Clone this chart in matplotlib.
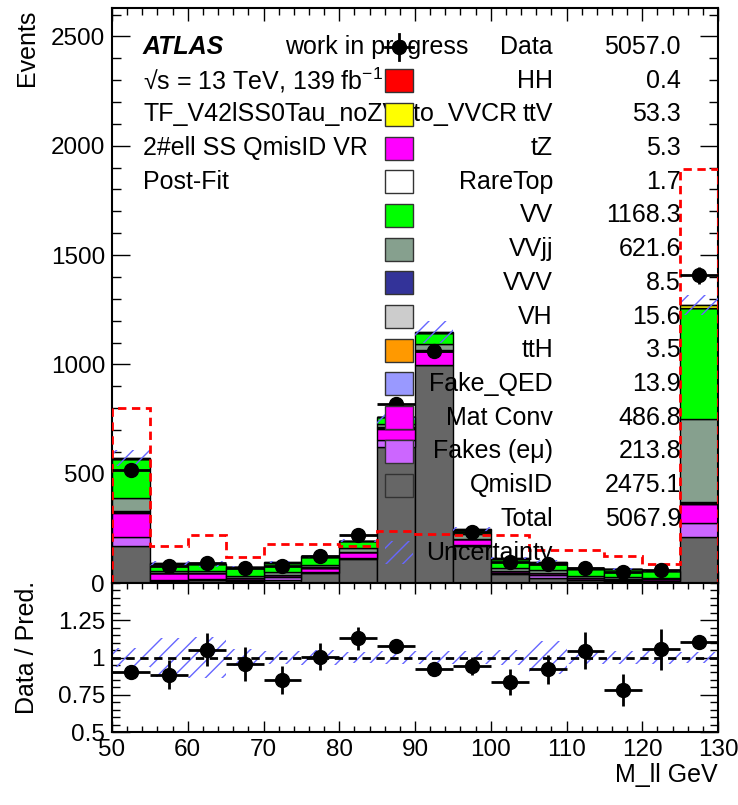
import numpy as np
import matplotlib
matplotlib.use('Agg')
import matplotlib.pyplot as plt
from matplotlib.patches import Rectangle
from matplotlib.ticker import MultipleLocator

plt.rcParams['font.family'] = ['Liberation Sans', 'DejaVu Sans']
plt.rcParams['mathtext.fontset'] = 'custom'
plt.rcParams['mathtext.rm'] = 'Liberation Sans'
plt.rcParams['mathtext.it'] = 'Liberation Sans:italic'
plt.rcParams['hatch.linewidth'] = 1.0

#####
# M_ll binning (GeV)
edges = np.arange(50, 131, 5)
centers = edges[:-1] + 2.5

data = [515, 80, 92, 70, 80, 122, 218, 820, 1060, 232, 95, 88, 70, 50, 58, 1407]

# backgrounds, stacked from the bottom up
qmisid   = [169, 10, 12, 10, 15, 46, 110, 624, 995, 170, 40, 25, 12, 10, 8, 212]
fakes_em = [43, 6, 6, 5, 12, 6, 6, 30, 4, 6, 6, 10, 3, 3, 3, 64]
mat_conv = [110, 30, 27, 8, 10, 18, 25, 52, 60, 25, 8, 10, 6, 6, 6, 85]
fake_qed = [2, 0.3, 0.3, 0.3, 0.3, 0.5, 0.5, 3, 2.5, 0.5, 0.3, 0.3, 0.2, 0.2, 0.2, 2.5]
tth      = [0.5, 0.1, 0.1, 0.1, 0.1, 0.2, 0.2, 0.3, 0.3, 0.2, 0.1, 0.1, 0.1, 0.1, 0.1, 1.0]
vh       = [3, 0.5, 0.5, 0.5, 0.5, 0.8, 0.8, 2, 2, 0.8, 0.5, 0.5, 0.3, 0.3, 0.3, 2.3]
vvv      = [1.5, 0.2, 0.2, 0.2, 0.3, 0.3, 0.4, 0.6, 0.8, 0.4, 0.3, 0.3, 0.2, 0.2, 0.2, 2.4]
vvjj     = [62, 10, 10, 8, 10, 12, 15, 15, 30, 20, 15, 12, 10, 6, 6, 381]
vv       = [176, 31, 29, 39, 44, 34, 32, 32, 48, 20, 41, 35, 33, 36, 29, 506]
raretop  = [0.3, 0.05, 0.05, 0.05, 0.05, 0.1, 0.1, 0.2, 0.2, 0.1, 0.05, 0.05, 0.05, 0.05, 0.05, 0.25]
tz       = [1.0, 0.2, 0.2, 0.2, 0.2, 0.3, 0.3, 0.4, 0.5, 0.3, 0.2, 0.2, 0.1, 0.1, 0.1, 1.0]
ttv      = [4, 2, 2, 2, 2, 3, 3, 2, 4, 3, 2, 2, 2, 2, 2, 15]
hh       = [0.05, 0, 0, 0, 0, 0.02, 0.03, 0.05, 0.05, 0.02, 0.01, 0.01, 0.01, 0.01, 0.01, 0.13]

# relative systematic uncertainty per bin
rel_unc = [0.065, 0.13, 0.14, 0.055, 0.045, 0.05, 0.04, 0.045, 0.045, 0.045, 0.05, 0.11, 0.045, 0.045, 0.045, 0.035]

# dashed red overlay
overlay = [800, 169, 220, 118, 178, 178, 170, 236, 223, 220, 220, 150, 150, 124, 88, 1893]

samples = [
    ('QmisID',      qmisid,   '#666666'),
    ('Fakes (eμ)',  fakes_em, '#cc66ff'),
    ('Mat Conv',    mat_conv, '#ff00ff'),
    ('Fake_QED',    fake_qed, '#9999ff'),
    ('ttH',         tth,      '#ff9900'),
    ('VH',          vh,       '#cccccc'),
    ('VVV',         vvv,      '#333399'),
    ('VVjj',        vvjj,     '#86a08e'),
    ('VV',          vv,       '#00ff00'),
    ('RareTop',     raretop,  '#ffffff'),
    ('tZ',          tz,       '#ff00ff'),
    ('ttV',         ttv,      '#ffff00'),
    ('HH',          hh,       '#ff0000'),
]

# yields printed in the legend
legend_names  = ['Data', 'HH', 'ttV', 'tZ', 'RareTop', 'VV', 'VVjj', 'VVV', 'VH', 'ttH',
                 'Fake_QED', 'Mat Conv', 'Fakes (eμ)', 'QmisID', 'Total', 'Uncertainty']
legend_yields = ['5057.0', '0.4', '53.3', '5.3', '1.7', '1168.3', '621.6', '8.5', '15.6', '3.5',
                 '13.9', '486.8', '213.8', '2475.1', '5067.9', '']

W, H = 738, 805
fig = plt.figure(figsize=(W/100, H/100), dpi=100)
ax = fig.add_axes([112/W, 1-583/H, 606/W, 575/H])
rax = fig.add_axes([112/W, 1-732/H, 606/W, 149/H])

#####
# stack
bottom = np.zeros(len(centers))
for name, vals, col in samples:
    vals = np.array(vals, dtype=float)
    ax.bar(centers, vals, width=5, bottom=bottom, color=col, edgecolor='black', linewidth=1.0, zorder=2)
    bottom = bottom + vals
total = bottom
unc = total*np.array(rel_unc)

ax.bar(centers, 2*unc, width=5, bottom=total-unc, fill=False, hatch='//', edgecolor='#6666ff', linewidth=0, zorder=3)
ax.stairs(overlay, edges, color='red', linestyle=(0, (3, 2)), linewidth=2, zorder=4)

data = np.array(data, dtype=float)
ax.errorbar(centers, data, xerr=2.5, yerr=np.sqrt(data), fmt='o', color='black', ms=10, elinewidth=2, capsize=0, zorder=5)

ax.set_xlim(50, 130)
ax.set_ylim(0, 2630)
ax.xaxis.set_major_locator(MultipleLocator(10))
ax.xaxis.set_minor_locator(MultipleLocator(2))
ax.yaxis.set_major_locator(MultipleLocator(500))
ax.yaxis.set_minor_locator(MultipleLocator(100))
ax.tick_params(axis='both', which='both', direction='in', top=True, right=True, labelsize=17.5, width=1)
ax.tick_params(axis='y', which='major', length=13, pad=5)
ax.tick_params(axis='y', which='minor', length=6.5)
ax.tick_params(axis='x', which='major', length=9)
ax.tick_params(axis='x', which='minor', length=5)
ax.tick_params(axis='x', labelbottom=False)
for s in ax.spines.values():
    s.set_linewidth(1.5)

#####
# labels and legend, placed in pixel coordinates of the upper pad
def px(x, y):
    return ((x-112)/606, (583-y)/575)

fs = 18
row0, drow = 47, 33.7
ax.text(*px(143, row0), 'ATLAS', transform=ax.transAxes, fontsize=fs, fontweight='bold', fontstyle='italic', va='center', zorder=6)
ax.text(*px(285, row0), 'work in progress', transform=ax.transAxes, fontsize=fs, va='center', zorder=6)
left_lines = ['√s = 13 TeV, 139 fb$^{-1}$', 'TF_V42lSS0Tau_noZV_to_VVCR', '2#ell SS QmisID VR', 'Post-Fit']
for i, t in enumerate(left_lines):
    ax.text(*px(143, row0 + (i+1)*drow), t, transform=ax.transAxes, fontsize=fs, va='center', zorder=6)

colors = {n: c for n, _, c in samples}
bw, bh = 28, 23
for i, (name, yld) in enumerate(zip(legend_names, legend_yields)):
    y = row0 + i*drow
    if name == 'Data':
        x0, y0 = px(399, y)
        ax.plot([x0, x0], [px(0, y-13)[1], px(0, y+13)[1]], color='black', lw=2, transform=ax.transAxes, zorder=7)
        ax.plot([px(385, 0)[0], px(413, 0)[0]], [y0, y0], color='black', lw=2, transform=ax.transAxes, zorder=7)
        ax.plot([x0], [y0], 'o', color='black', ms=10, transform=ax.transAxes, zorder=7)
    elif name == 'Uncertainty':
        ax.add_patch(Rectangle(px(385, y+bh/2), bw/606, bh/575, transform=ax.transAxes, fill=False,
                               hatch='//', edgecolor='#6666ff', linewidth=0, zorder=7))
    elif name == 'Total':
        pass
    else:
        ax.add_patch(Rectangle(px(385, y+bh/2), bw/606, bh/575, transform=ax.transAxes,
                               facecolor=colors[name], edgecolor='#333333', linewidth=1, zorder=7))
    ax.text(*px(553, y), name, transform=ax.transAxes, fontsize=fs, ha='right', va='center', zorder=6)
    if yld:
        ax.text(*px(681, y), yld, transform=ax.transAxes, fontsize=fs, ha='right', va='center', zorder=6)

#####
# ratio pad
ratio = data/total
ratio_err = np.sqrt(data)/total
rax.bar(centers, 2*np.array(rel_unc), width=5, bottom=1-np.array(rel_unc), fill=False, hatch='//',
        edgecolor='#6666ff', linewidth=0, zorder=2)
rax.axhline(1, color='black', linestyle=(0, (3, 2)), linewidth=2, zorder=3)
rax.errorbar(centers, ratio, xerr=2.5, yerr=ratio_err, fmt='o', color='black', ms=10, elinewidth=2, capsize=0, zorder=4)
rax.set_xlim(50, 130)
rax.set_ylim(0.5, 1.5)
rax.set_yticks([0.5, 0.75, 1.0, 1.25])
rax.set_yticklabels(['0.5', '0.75', '1', '1.25'])
rax.yaxis.set_minor_locator(MultipleLocator(0.05))
rax.xaxis.set_major_locator(MultipleLocator(10))
rax.xaxis.set_minor_locator(MultipleLocator(2))
rax.tick_params(axis='both', which='both', direction='in', top=True, right=True, labelsize=17.5, width=1)
rax.tick_params(axis='y', which='major', length=13, pad=5)
rax.tick_params(axis='y', which='minor', length=6)
rax.tick_params(axis='x', which='major', length=8, pad=5)
rax.tick_params(axis='x', which='minor', length=4)
for s in rax.spines.values():
    s.set_linewidth(1.5)

fig.text(27/W, 1-10/H, 'Events', rotation=90, ha='center', va='top', fontsize=fs)
fig.text(27/W, 1-647/H, 'Data / Pred.', rotation=90, ha='center', va='center', fontsize=fs)
fig.text(718/W, 1-775/H, 'M_ll GeV', ha='right', va='center', fontsize=fs)

fig.savefig('out.png', dpi=100)
